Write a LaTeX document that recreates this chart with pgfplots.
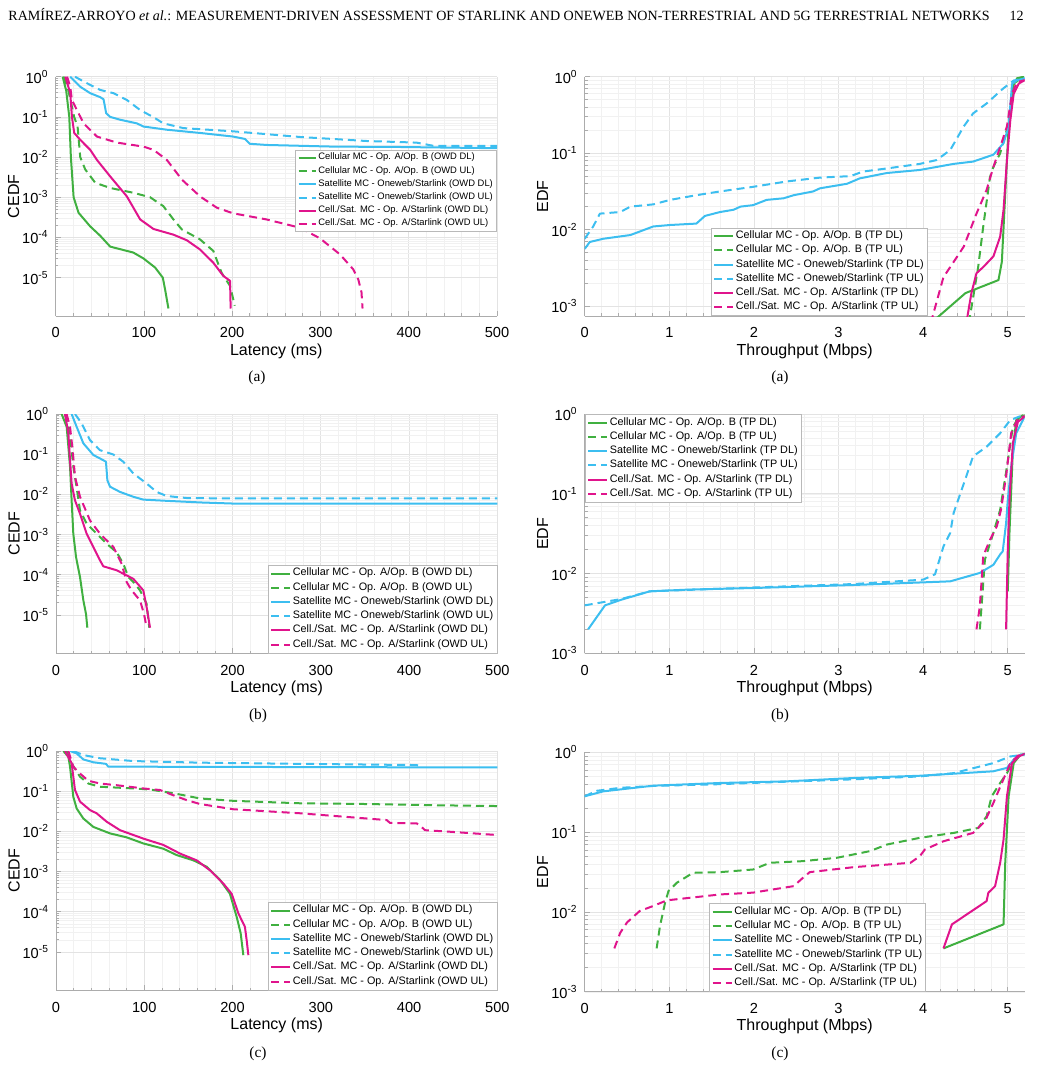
\documentclass[border=0pt]{standalone}
\usepackage{fontspec}
\setmainfont{Liberation Sans}
\newfontfamily\timesfont{Liberation Serif}
\usepackage{pgfplots}
\pgfplotsset{compat=1.18}
\definecolor{cgreen}{RGB}{64,176,64}
\definecolor{cblue}{RGB}{60,190,240}
\definecolor{cmag}{RGB}{224,20,140}
\tikzset{
  lgs/.style={draw=cgreen, line width=1pt, line join=round},
  lgd/.style={draw=cgreen, line width=1pt, line join=round, dash pattern=on 4pt off 2.5pt},
  lbs/.style={draw=cblue, line width=1pt, line join=round},
  lbd/.style={draw=cblue, line width=1pt, line join=round, dash pattern=on 4pt off 2.5pt},
  lms/.style={draw=cmag, line width=1pt, line join=round},
  lmd/.style={draw=cmag, line width=1pt, line join=round, dash pattern=on 4pt off 2.5pt},
}
\pgfplotsset{
  scale only axis,
  axis x line*=bottom, axis y line*=left,
  axis line style={-, draw=gray!65, line width=0.45pt},
  grid=both,
  major grid style={draw=gray!22, line width=0.35pt},
  minor grid style={draw=gray!11, line width=0.3pt},
  tick align=inside, major tick length=2.6pt, minor tick length=1.4pt,
  tick style={draw=gray!65, line width=0.35pt},
  tick label style={font=\fontsize{7.3}{8}\selectfont},
  xticklabel style={yshift=-2.3pt},
  /pgf/number format/assume math mode=true,
  label style={font=\fontsize{8}{9}\selectfont},
  xlabel style={at={([yshift=-17.5pt]axis description cs:0.5,0)}, anchor=center},
  ylabel style={at={([xshift=-21pt]axis description cs:0,0.5)}, anchor=center},
  legend cell align=left,
  legend style={draw=gray!55, line width=0.4pt, fill=white,
      font=\fontsize{5.4}{6}\selectfont, inner xsep=1pt, inner ysep=0.6pt,
      nodes={inner sep=0.85pt}, row sep=0pt},
}
\pgfplotsset{
  leftax/.style={width=220.7pt, height=119.7pt,
    xmin=0, xmax=500, ymin=1.1e-6, ymax=1,
    xtick={0,100,200,300,400,500}, minor x tick num=4,
    ytick={1e-5,1e-4,1e-3,1e-2,1e-1,1},
    yticklabels={10\textsuperscript{-5},10\textsuperscript{-4},10\textsuperscript{-3},10\textsuperscript{-2},10\textsuperscript{-1},10\textsuperscript{0}},
    xlabel={Latency (ms)}, ylabel={CEDF}},
  rightax/.style={width=220pt, height=119.7pt,
    xmin=0, xmax=5.2, ymin=1e-3, ymax=1,
    xtick={0,1,2,3,4,5}, minor x tick num=4,
    ytick={1e-3,1e-2,1e-1,1},
    yticklabels={10\textsuperscript{-3},10\textsuperscript{-2},10\textsuperscript{-1},10\textsuperscript{0}},
    xlabel={Throughput (Mbps)}, ylabel={EDF}},
}
\begin{document}
\begin{tikzpicture}
\path[use as bounding box] (0,0) rectangle (520.5pt,-534pt);
\node[anchor=base west, inner sep=0pt, font=\timesfont\fontsize{7.03}{8}\selectfont] at (4pt,-10.25pt)
  {RAMÍREZ-ARROYO \textit{et al.}: MEASUREMENT-DRIVEN ASSESSMENT OF STARLINK AND ONEWEB NON-TERRESTRIAL AND 5G TERRESTRIAL NETWORKS};
\node[anchor=base east, inner sep=0pt, font=\timesfont\fontsize{7.03}{8}\selectfont] at (512pt,-10.25pt) {12};

% ---------- (a) left ----------
\begin{axis}[ymode=log, leftax, at={(27.8pt,-38.35pt)}, anchor=north west,
  legend style={at={(1,0.695)}, anchor=north east, font=\fontsize{4.7}{5.2}\selectfont},
  legend image code/.code={\draw[#1] (0pt,0pt) -- (8.6pt,0pt);}]
\addplot[lgs] coordinates {(8,1)(12,0.45)(15.5,0.1)(17.3,0.01)(20.4,1e-3)(26,4.1e-4)(39,1.9e-4)(50.5,1.1e-4)(61.8,5.9e-5)(88,4.2e-5)(99.5,3.0e-5)(112.7,1.78e-5)(121.4,1.0e-5)(124,5.1e-6)(127.8,1.7e-6)};
\addplot[lgd] coordinates {(9,1)(14,0.5)(18,0.2)(21,0.1)(24.9,0.0575)(27.9,0.01)(33.6,4.9e-3)(44.9,2.29e-3)(61.8,1.7e-3)(88.2,1.29e-3)(107,1e-3)(122,6.0e-4)(133.5,2.8e-4)(143,1.58e-4)(163.6,8.9e-5)(178.7,4.6e-5)(188,1.32e-5)(197.6,6.2e-6)(203,2.0e-6)};
\addplot[lbs] coordinates {(16.6,1)(27.9,0.562)(39.2,0.389)(50.5,0.309)(54.3,0.275)(57.3,0.123)(61.8,0.1)(73,0.085)(92,0.069)(99.5,0.0575)(126,0.0479)(163.6,0.0398)(201,0.0324)(214.6,0.0282)(220,0.0214)(239,0.02)(314.5,0.0182)(390,0.0178)(500,0.0166)};
\addplot[lbd] coordinates {(22,1)(31.7,0.759)(50.5,0.468)(65.6,0.389)(80.7,0.263)(95.8,0.148)(110.9,0.098)(122,0.069)(144.8,0.0525)(201,0.0437)(276.8,0.0316)(352,0.0251)(408.7,0.0229)(427.6,0.0191)(500,0.0191)};
\addplot[lms] coordinates {(11,1)(16.6,0.389)(18.5,0.1)(21.1,0.0398)(27.9,0.0269)(39.2,0.0151)(46.8,8.5e-3)(61.8,3.3e-3)(80.7,1.05e-3)(95.8,2.8e-4)(110.9,1.62e-4)(133.5,1.17e-4)(148.6,8.5e-5)(163.6,5.0e-5)(178.7,2.34e-5)(190,1.1e-5)(197.6,8.3e-6)(198.3,1.7e-6)};
\addplot[lmd] coordinates {(13,1)(16.6,0.562)(18.5,0.263)(24.1,0.148)(31.7,0.069)(46.8,0.0324)(69.4,0.0229)(99.5,0.0182)(110.9,0.0151)(126,8.5e-3)(143,2.75e-3)(163.6,1.05e-3)(182.5,5.5e-4)(201,3.98e-4)(239,2.8e-4)(276.8,1.74e-4)(299.4,9.5e-5)(322,3.8e-5)(337,1.62e-5)(342.8,9.1e-6)(346.5,4.3e-6)(347.7,1.7e-6)};
\legend{Cellular MC - Op. A/Op. B (OWD DL),Cellular MC - Op. A/Op. B (OWD UL),Satellite MC - Oneweb/Starlink (OWD DL),Satellite MC - Oneweb/Starlink (OWD UL),Cell./Sat. MC - Op. A/Starlink (OWD DL),Cell./Sat. MC - Op. A/Starlink (OWD UL)}
\end{axis}

% ---------- (a) right ----------
\begin{axis}[ymode=log, rightax, ymin=7.4e-4, at={(292.35pt,-38.35pt)}, anchor=north west,
  legend style={at={(0.2866,0)}, anchor=south west},
  legend image code/.code={\draw[#1] (0pt,0pt) -- (9.5pt,0pt);}]
\addplot[lgs] coordinates {(4.10,6.1e-4)(4.50,1.48e-3)(4.89,2.19e-3)(4.93,3.8e-3)(4.97,0.0295)(5.01,0.224)(5.06,0.741)(5.11,0.955)(5.19,1)};
\addplot[lgd] coordinates {(4.54,6e-4)(4.65,3.24e-3)(4.71,0.011)(4.79,0.049)(4.83,0.066)(4.91,0.1)(5.01,0.245)(5.07,0.8)(5.15,0.95)(5.19,0.97)};
\addplot[lbs] coordinates {(0,5.6e-3)(0.06,6.9e-3)(0.22,7.6e-3)(0.54,8.5e-3)(0.81,0.011)(1.01,0.0115)(1.32,0.012)(1.42,0.0151)(1.60,0.017)(1.76,0.0182)(1.84,0.02)(1.99,0.0209)(2.15,0.0245)(2.35,0.0257)(2.47,0.0282)(2.70,0.0316)(2.78,0.0347)(3.10,0.0398)(3.25,0.0468)(3.57,0.055)(3.96,0.0603)(4.36,0.0724)(4.59,0.0776)(4.83,0.0955)(4.95,0.135)(5.01,0.224)(5.05,0.8)(5.11,0.9)(5.2,0.95)};
\addplot[lbd] coordinates {(0,7.6e-3)(0.10,0.011)(0.18,0.0162)(0.42,0.017)(0.54,0.02)(0.81,0.0214)(1.01,0.0245)(1.32,0.0282)(1.60,0.0316)(1.99,0.0363)(2.39,0.0427)(2.78,0.0479)(3.14,0.0501)(3.29,0.0575)(3.57,0.0631)(3.96,0.0724)(4.16,0.0813)(4.32,0.11)(4.48,0.224)(4.59,0.331)(4.75,0.447)(4.95,0.708)(5.07,0.891)(5.15,0.93)(5.2,0.95)};
\addplot[lms] coordinates {(4.51,6e-4)(4.57,1.48e-3)(4.63,2.69e-3)(4.71,3.24e-3)(4.83,4.47e-3)(4.91,8.1e-3)(4.95,0.0182)(4.99,0.0813)(5.03,0.269)(5.07,0.6)(5.13,0.813)(5.2,0.9)};
\addplot[lmd] coordinates {(4.09,6e-4)(4.24,2.4e-3)(4.32,3.24e-3)(4.48,6.0e-3)(4.63,0.0162)(4.75,0.0331)(4.83,0.066)(4.91,0.12)(4.99,0.224)(5.05,0.6)(5.11,0.85)(5.2,0.9)};
\legend{Cellular MC - Op. A/Op. B (TP DL),Cellular MC - Op. A/Op. B (TP UL),Satellite MC - Oneweb/Starlink (TP DL),Satellite MC - Oneweb/Starlink (TP UL),Cell./Sat. MC - Op. A/Starlink (TP DL),Cell./Sat. MC - Op. A/Starlink (TP UL)}
\end{axis}

% ---------- (b) left ----------
\begin{axis}[ymode=log, leftax, at={(28pt,-207pt)}, anchor=north west,
  legend style={at={(1,0)}, anchor=south east},
  legend image code/.code={\draw[#1] (0pt,0pt) -- (9.5pt,0pt);}]
\addplot[lgs] coordinates {(6.4,1)(12.1,0.479)(15.9,0.049)(17.7,7.1e-3)(19.6,1.05e-3)(22.7,2.75e-4)(27.2,8.7e-5)(31,2.29e-5)(34,1.05e-5)(35.5,4.8e-6)};
\addplot[lgd] coordinates {(10.2,1)(15.9,0.3)(19.6,0.049)(22.7,0.0186)(27.2,3.98e-3)(34.7,1.86e-3)(46,1.05e-3)(57.4,5.9e-4)(68.7,3.63e-4)(76.3,1.86e-4)(82,8.7e-5)(87.6,6.6e-5)(95.2,4.07e-5)(102.7,1.86e-5)(105.7,4.8e-6)};
\addplot[lbs] coordinates {(17.7,1)(23.4,0.479)(31,0.186)(42.3,0.0955)(53.6,0.0708)(56.6,0.0646)(58.2,0.0224)(61.2,0.0155)(72.5,0.0115)(87.6,8.7e-3)(98.9,7.4e-3)(125.4,6.9e-3)(163,6.3e-3)(201,5.9e-3)(500,5.9e-3)};
\addplot[lbd] coordinates {(21.5,1)(29,0.589)(38.5,0.224)(49.8,0.126)(65,0.098)(76.3,0.0646)(87.6,0.0331)(102.7,0.0186)(114,0.0115)(125.4,9.1e-3)(148,8.1e-3)(201,7.9e-3)(500,7.9e-3)};
\addplot[lms] coordinates {(10.2,1)(14,0.331)(15.9,0.0708)(17.7,0.0186)(21.5,7.1e-3)(27.2,3.3e-3)(34.7,1.05e-3)(42.3,4.9e-4)(49.8,2.29e-4)(53.6,1.62e-4)(68.7,1.29e-4)(87.6,7.9e-5)(98.9,4.07e-5)(102.7,1.55e-5)(106.5,4.8e-6)};
\addplot[lmd] coordinates {(12,1)(15.9,0.479)(18.9,0.126)(21.5,0.0275)(27.2,8.7e-3)(38.5,2.24e-3)(49.8,1.05e-3)(65,4.9e-4)(74.4,1.86e-4)(80,6.6e-5)(85.7,4.07e-5)(95.2,2.29e-5)(99.7,1.05e-5)(102.7,4.8e-6)};
\legend{Cellular MC - Op. A/Op. B (OWD DL),Cellular MC - Op. A/Op. B (OWD UL),Satellite MC - Oneweb/Starlink (OWD DL),Satellite MC - Oneweb/Starlink (OWD UL),Cell./Sat. MC - Op. A/Starlink (OWD DL),Cell./Sat. MC - Op. A/Starlink (OWD UL)}
\end{axis}

% ---------- (b) right ----------
\begin{axis}[ymode=log, rightax, at={(292.35pt,-207pt)}, anchor=north west,
  legend style={at={(0,1)}, anchor=north west},
  legend image code/.code={\draw[#1] (0pt,0pt) -- (9.5pt,0pt);}]
\addplot[lgs] coordinates {(5.0,6.0e-3)(5.02,0.0324)(5.06,0.355)(5.1,0.84)(5.18,0.97)};
\addplot[lgd] coordinates {(4.67,2.0e-3)(4.69,3.9e-3)(4.73,0.015)(4.83,0.0324)(4.91,0.063)(4.99,0.219)(5.06,0.69)(5.14,0.93)(5.2,0.96)};
\addplot[lbs] coordinates {(0.04,2.0e-3)(0.24,4.0e-3)(0.43,4.7e-3)(0.77,6.0e-3)(1.22,6.3e-3)(2.0,6.6e-3)(3.18,7.2e-3)(4.32,8.0e-3)(4.67,0.0102)(4.83,0.0129)(4.91,0.0174)(4.94,0.019)(4.98,0.0427)(5.0,0.084)(5.04,0.219)(5.1,0.575)(5.2,0.93)};
\addplot[lbd] coordinates {(0,4.0e-3)(0.43,4.8e-3)(0.77,6.0e-3)(2.0,6.7e-3)(3.18,7.4e-3)(4.0,8.4e-3)(4.14,9.8e-3)(4.24,0.0219)(4.32,0.0324)(4.36,0.0575)(4.51,0.166)(4.59,0.295)(4.75,0.389)(4.91,0.575)(5.03,0.84)(5.15,0.94)};
\addplot[lms] coordinates {(4.98,2.0e-3)(5.0,0.02)(5.02,0.084)(5.06,0.43)(5.12,0.8)(5.2,0.93)};
\addplot[lmd] coordinates {(4.63,2.0e-3)(4.67,3.9e-3)(4.71,0.0166)(4.79,0.0266)(4.87,0.039)(4.92,0.063)(4.98,0.166)(5.04,0.575)(5.12,0.88)(5.2,0.94)};
\legend{Cellular MC - Op. A/Op. B (TP DL),Cellular MC - Op. A/Op. B (TP UL),Satellite MC - Oneweb/Starlink (TP DL),Satellite MC - Oneweb/Starlink (TP UL),Cell./Sat. MC - Op. A/Starlink (TP DL),Cell./Sat. MC - Op. A/Starlink (TP UL)}
\end{axis}

% ---------- (c) left ----------
\begin{axis}[ymode=log, leftax, at={(28pt,-375.5pt)}, anchor=north west,
  legend style={at={(1,0)}, anchor=south east},
  legend image code/.code={\draw[#1] (0pt,0pt) -- (9.5pt,0pt);}]
\addplot[lgs] coordinates {(8.3,1)(14,0.72)(15.9,0.407)(19.6,0.0724)(23.4,0.0372)(31,0.0209)(42.3,0.0129)(61.2,8.9e-3)(80,7.1e-3)(99,5.0e-3)(121.6,3.7e-3)(136.7,2.57e-3)(155.6,1.9e-3)(170.7,1.32e-3)(185.8,6.2e-4)(197,2.8e-4)(204.7,7.4e-5)(209.2,2.9e-5)(212.2,8.3e-6)};
\addplot[lgd] coordinates {(12,1)(17.7,0.49)(27.2,0.229)(36.6,0.155)(49.8,0.129)(87.6,0.117)(106.5,0.11)(133,0.089)(163,0.066)(201,0.0575)(276.4,0.05)(352,0.0479)(427.5,0.0447)(500,0.0427)};
\addplot[lbs] coordinates {(15.9,1)(23.4,0.87)(31,0.617)(42.3,0.525)(56.6,0.479)(59.3,0.407)(87.6,0.407)(500,0.389)};
\addplot[lbd] coordinates {(19.6,1)(31,0.794)(49.8,0.661)(87.6,0.562)(163,0.513)(276.4,0.479)(408.6,0.447)(412.4,0.41)};
\addplot[lms] coordinates {(10.2,1)(17.7,0.5)(21.5,0.107)(27.2,0.055)(38.5,0.0339)(46,0.0282)(57.4,0.0174)(72.5,0.0107)(99,6.6e-3)(121.6,4.6e-3)(140.5,2.8e-3)(159.4,1.9e-3)(174.5,1.07e-3)(189.6,5.0e-4)(199,2.8e-4)(206.6,9.1e-5)(214,4.2e-5)(216,1.95e-5)(217.9,8.3e-6)};
\addplot[lmd] coordinates {(14,1)(19.6,0.407)(27.2,0.275)(36.6,0.182)(49.8,0.155)(68.7,0.141)(99,0.117)(117.8,0.107)(133,0.079)(148,0.06)(163,0.048)(201,0.0355)(276.4,0.0282)(352,0.0209)(374.6,0.0191)(378.4,0.0162)(408.6,0.0158)(414,0.0129)(418,0.0107)(446,9.8e-3)(500,8.1e-3)};
\legend{Cellular MC - Op. A/Op. B (OWD DL),Cellular MC - Op. A/Op. B (OWD UL),Satellite MC - Oneweb/Starlink (OWD DL),Satellite MC - Oneweb/Starlink (OWD UL),Cell./Sat. MC - Op. A/Starlink (OWD DL),Cell./Sat. MC - Op. A/Starlink (OWD UL)}
\end{axis}

% ---------- (c) right ----------
\begin{axis}[ymode=log, rightax, at={(292.35pt,-376.2pt)}, anchor=north west,
  legend style={at={(0.283,0)}, anchor=south west},
  legend image code/.code={\draw[#1] (0pt,0pt) -- (9.5pt,0pt);}]
\addplot[lgs] coordinates {(4.24,3.5e-3)(4.95,7.0e-3)(4.97,0.0414)(5.01,0.282)(5.07,0.735)(5.15,0.935)(5.2,0.95)};
\addplot[lgd] coordinates {(0.85,3.5e-3)(0.89,6.7e-3)(0.95,0.0131)(0.99,0.0183)(1.09,0.0233)(1.28,0.031)(1.6,0.0316)(1.99,0.0341)(2.19,0.0414)(2.58,0.0434)(2.98,0.0478)(3.37,0.0579)(3.57,0.070)(3.96,0.085)(4.36,0.098)(4.65,0.113)(4.75,0.158)(4.81,0.282)(4.91,0.414)(4.99,0.55)(5.07,0.81)(5.2,0.96)};
\addplot[lbs] coordinates {(0,0.282)(0.22,0.325)(0.81,0.383)(1.6,0.414)(2.39,0.434)(3.18,0.478)(3.96,0.51)(4.83,0.58)(4.99,0.64)(5.07,0.81)(5.15,0.935)(5.2,0.95)};
\addplot[lbd] coordinates {(0,0.282)(0.14,0.33)(0.42,0.36)(0.81,0.38)(1.6,0.40)(2.39,0.43)(3.18,0.46)(3.96,0.5)(4.36,0.55)(4.83,0.735)(5.03,0.89)(5.2,0.94)};
\addplot[lms] coordinates {(4.24,3.5e-3)(4.34,7.0e-3)(4.75,0.0137)(4.77,0.0174)(4.85,0.0211)(4.91,0.0414)(4.95,0.081)(4.99,0.282)(5.05,0.735)(5.13,0.89)(5.2,0.96)};
\addplot[lmd] coordinates {(0.35,3.5e-3)(0.42,5.5e-3)(0.50,7.4e-3)(0.65,0.0103)(0.81,0.0119)(0.97,0.014)(1.6,0.0166)(1.99,0.0175)(2.47,0.0211)(2.58,0.0269)(2.66,0.0316)(3.18,0.0365)(3.85,0.0414)(3.96,0.05)(4.02,0.0607)(4.24,0.077)(4.59,0.098)(4.73,0.137)(4.83,0.233)(4.93,0.414)(5.03,0.735)(5.12,0.91)(5.2,0.96)};
\legend{Cellular MC - Op. A/Op. B (TP DL),Cellular MC - Op. A/Op. B (TP UL),Satellite MC - Oneweb/Starlink (TP DL),Satellite MC - Oneweb/Starlink (TP UL),Cell./Sat. MC - Op. A/Starlink (TP DL),Cell./Sat. MC - Op. A/Starlink (TP UL)}
\end{axis}

% captions
\node[font=\timesfont\fontsize{7.7}{9}\selectfont] at (128.5pt,-189pt) {(a)};
\node[font=\timesfont\fontsize{7.7}{9}\selectfont] at (390pt,-189pt) {(a)};
\node[font=\timesfont\fontsize{7.7}{9}\selectfont] at (129pt,-358pt) {(b)};
\node[font=\timesfont\fontsize{7.7}{9}\selectfont] at (390pt,-358pt) {(b)};
\node[font=\timesfont\fontsize{7.7}{9}\selectfont] at (129pt,-527pt) {(c)};
\node[font=\timesfont\fontsize{7.7}{9}\selectfont] at (390pt,-527pt) {(c)};
\end{tikzpicture}
\end{document}
